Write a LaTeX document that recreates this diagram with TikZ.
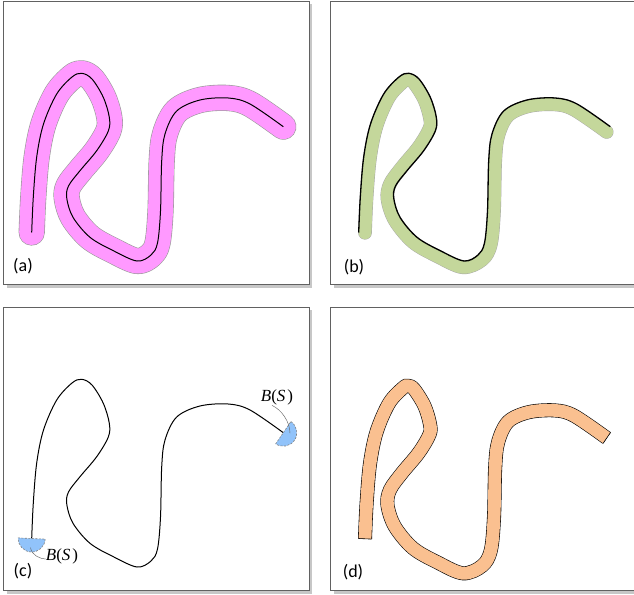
\documentclass[tikz,border=0pt]{standalone}
\usepackage{fontspec}
\setmainfont{Carlito}
\newfontfamily\bsfont{Liberation Serif}
\definecolor{pinkband}{RGB}{255,153,255}
\definecolor{greenband}{RGB}{196,215,155}
\definecolor{orangeband}{RGB}{250,192,144}
\definecolor{blueish}{RGB}{145,195,250}
\newcommand\curveP{plot[smooth,tension=0.55] coordinates {(31.7,232.5) (33.3,197) (36.7,157) (43.5,124) (56.7,94) (72,77) (81.7,73.3) (92,79) (103.3,97.3) (109.3,117.3) (108.3,131) (96.7,150.7) (80,170.7) (68.5,186) (66.8,198.5) (73,217.3) (90,237.3) (113.3,250.7) (137,261) (151,255) (157.5,243) (160.5,211) (161.7,161) (165,134) (176.7,111) (200,100) (228.3,98) (250,104) (283.3,126.7)}}
\newcommand\curveB{plot[smooth,tension=0.55] coordinates {(38,232.8) (39.6,197.4) (43,157.8) (49.6,125.8) (62.1,97.1) (76,81.9) (81.1,79.8) (87.2,83.3) (97.5,100) (103,118.3) (102.4,128.7) (91.6,147) (75,167) (63,183.8) (60.5,199.1) (67.8,220.5) (86,242.2) (110.5,256.4) (136,267.3) (155.2,259.8) (163.8,244.4) (167,211.3) (168.2,161.4) (171.2,135.8) (181.2,115.6) (201.6,106.2) (227.8,104.4) (247,109.7) (279.7,132)}}
\newcommand\bstext{{\itshape B}({\itshape S}\kern2pt)}
\begin{document}
\begin{tikzpicture}[x=1pt,y=-1pt,
  frame/.style={fill=white,draw=black!62,line width=0.9},
  shadowbox/.style={fill=black!22},
  panellabel/.style={font=\fontsize{18}{20}\selectfont,inner sep=0},
  bslabel/.style={font=\bsfont\fontsize{17}{20}\selectfont,inner sep=0},
  halfdisk/.style={fill=blueish,draw=black!50,dash pattern=on 2pt off 1.5pt,line width=0.6},
  leader/.style={draw=black!60,line width=0.45}]
\useasboundingbox (0,0) rectangle (634,594);
% frames
\foreach \dx/\dy in {0/0,327/0,0/306,327/306}{
  \begin{scope}[shift={(\dx,\dy)}]
    \fill[shadowbox] (6.5,4) rectangle (312,287.5);
    \draw[frame] (3.5,1) rectangle (309,284);
  \end{scope}
}
% (a)
\draw[line width=26.2,line cap=round,line join=round,draw=black!40] \curveP;
\draw[line width=25,line cap=round,line join=round,draw=pinkband] \curveP;
\draw[line width=1] \curveP;
\node[panellabel] (la) at (23,266) {(a)};
% (b)
\begin{scope}[shift={(327,0)}]
  \draw[line width=13.6,line cap=round,draw=black!35] \curveB;
  \draw[line width=12.8,line cap=round,draw=greenband] \curveB;
  \draw[line width=1.3] \curveP;
  \node[panellabel] (lb) at (27,267) {(b)};
\end{scope}
% (c)
\begin{scope}[shift={(0,306)}]
  \draw[line width=1] \curveP;
  \filldraw[halfdisk] (31.7,232.5) ++(2.6:13.5) arc[start angle=2.6,end angle=182.6,radius=13.5] -- cycle;
  \filldraw[halfdisk] (283.3,126.7) ++(-55.7:13.5) arc[start angle=-55.7,end angle=124.3,radius=13.5] -- cycle;
  \coordinate (ct1) at (290,127.3);
  \coordinate (ct0) at (30.5,241.5);
  \node[bslabel] (bt) at (277,91.5) {\bstext};
  \node[bslabel] (bb) at (62,250) {\bstext};
  \draw[leader] ([xshift=-5pt]bt.south) .. controls +(9,4) and +(0,-12) .. (ct1);
  \draw[leader] (ct0) .. controls +(1,8) and +(-5,0) .. ([yshift=-3pt]bb.west);
  \node[panellabel] (lc) at (23,265) {(c)};
\end{scope}
% (d)
\begin{scope}[shift={(327,306)}]
  \draw[line width=14] \curveB;
  \draw[line width=12.8,draw=orangeband] \curveB;
  \coordinate (s0) at (31.5,232.5);
  \coordinate (s1) at (44.5,233.1);
  \coordinate (e0) at (283.5,126.5);
  \coordinate (e1) at (276.1,137.4);
  \draw[line width=0.6] (s0) -- (s1);
  \draw[line width=0.6] (e0) -- (e1);
  \node[panellabel] (ld) at (26,266) {(d)};
\end{scope}
\end{tikzpicture}
\end{document}
